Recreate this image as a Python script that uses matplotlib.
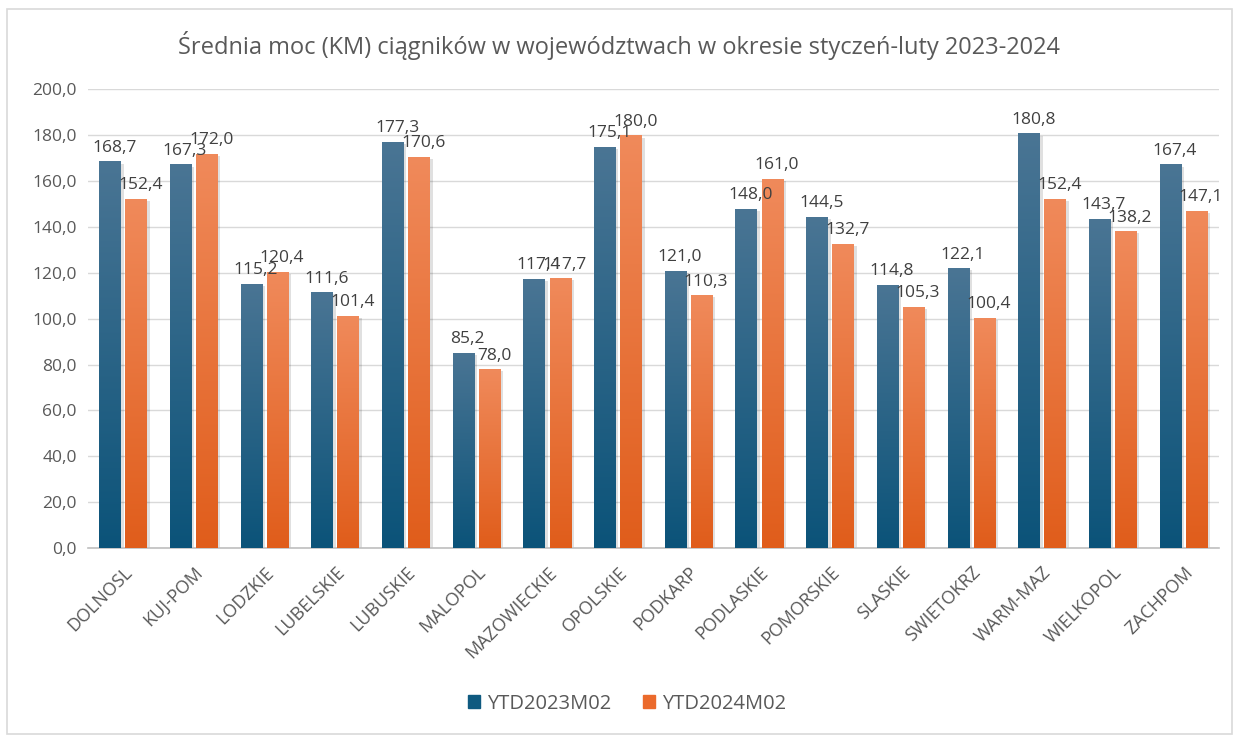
import numpy as np
import matplotlib
matplotlib.use("Agg")
import matplotlib.pyplot as plt
from matplotlib.colors import LinearSegmentedColormap
from matplotlib.patches import Rectangle

plt.rcParams['font.family'] = ['Open Sans', 'DejaVu Sans']

categories = ['DOLNOSL', 'KUJ-POM', 'LODZKIE', 'LUBELSKIE', 'LUBUSKIE', 'MALOPOL',
              'MAZOWIECKIE', 'OPOLSKIE', 'PODKARP', 'PODLASKIE', 'POMORSKIE',
              'SLASKIE', 'SWIETOKRZ', 'WARM-MAZ', 'WIELKOPOL', 'ZACHPOM']
ytd2023 = [168.7, 167.3, 115.2, 111.6, 177.3, 85.2, 117.4, 175.1, 121.0, 148.0,
           144.5, 114.8, 122.1, 180.8, 143.7, 167.4]
ytd2024 = [152.4, 172.0, 120.4, 101.4, 170.6, 78.0, 117.7, 180.0, 110.3, 161.0,
           132.7, 105.3, 100.4, 152.4, 138.2, 147.1]
series_names = ['YTD2023M02', 'YTD2024M02']

text_col = '#595959'
blue_grad = LinearSegmentedColormap.from_list('b', ['#0b5379', '#4a7594'])
orange_grad = LinearSegmentedColormap.from_list('o', ['#e05d1b', '#f08a5b'])


def fmt(v):
    return f'{v:.1f}'.replace('.', ',')


fig = plt.figure(figsize=(12.37, 7.37), dpi=100)
ax = fig.add_axes([0.0711, 0.2564, 0.9143, 0.6222])

x = np.arange(len(categories))
w = 0.31
off = 0.185

gradient = np.linspace(0, 1, 256).reshape(-1, 1)
for vals, sign, cmap, solid in [(ytd2023, -1, blue_grad, '#2a6688'),
                                (ytd2024, 1, orange_grad, '#e8733a')]:
    bars = ax.bar(x + sign * off, vals, w, color=solid, zorder=3)
    for b, v in zip(bars, vals):
        x0, y0 = b.get_x(), b.get_y()
        bw, bh = b.get_width(), b.get_height()
        # soft shadow
        ax.add_patch(Rectangle((x0 + 0.035, y0), bw, bh - 1.0, color='#000000',
                               alpha=0.12, lw=0, zorder=2))
        im = ax.imshow(gradient, cmap=cmap, aspect='auto', origin='lower',
                       extent=[x0, x0 + bw, y0, y0 + bh], zorder=3.5)
        im.set_clip_path(b)
        ax.annotate(fmt(v), (x0 + bw / 2, v), xytext=(3, 4), textcoords='offset points',
                    ha='center', va='bottom', fontsize=12.5, color='#404040', zorder=5)

ax.set_xlim(-0.5, len(categories) - 0.5)
ax.set_ylim(0, 200)
ax.set_yticks(np.arange(0, 201, 20))
ax.set_yticklabels([fmt(t) for t in np.arange(0, 201, 20)], fontsize=12.5, color=text_col)
ax.set_xticks(x)
ax.set_xticklabels(categories, rotation=45, ha='right', rotation_mode='anchor',
                   fontsize=13, color=text_col)
ax.tick_params(axis='both', length=0, pad=8)
ax.tick_params(axis='x', pad=11)
ax.grid(axis='y', color='#d9d9d9', linewidth=1, zorder=0)
for s in ['top', 'right', 'left']:
    ax.spines[s].set_visible(False)
ax.spines['bottom'].set_color('#bfbfbf')
ax.spines['bottom'].set_linewidth(1.2)

fig.text(0.5, 0.938, 'Średnia moc (KM) ciągników w województwach w okresie styczeń-luty 2023-2024',
         ha='center', va='center', fontsize=17, color=text_col)

handles = [Rectangle((0, 0), 1, 1, color='#0f5a80'), Rectangle((0, 0), 1, 1, color='#eb6a2c')]
fig.legend(handles, series_names, loc='center', bbox_to_anchor=(0.507, 0.045), ncol=2,
           frameon=False, fontsize=14.5, handlelength=0.6, handleheight=0.6,
           handletextpad=0.35, columnspacing=1.6, labelcolor=text_col)

fig.patches.append(Rectangle((0.006, 0.004), 0.99, 0.984, transform=fig.transFigure,
                             fill=False, edgecolor='#d9d9d9', linewidth=1.2))

fig.savefig('out.png', dpi=100)
